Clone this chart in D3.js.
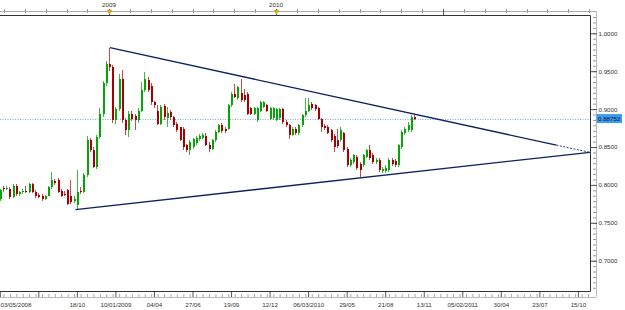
<!DOCTYPE html>
<html>
<head>
<meta charset="utf-8">
<script src="https://cdn.jsdelivr.net/npm/d3@7"></script>
<style>
body { margin: 0; background: #fff; }
svg { display: block; }
</style>
</head>
<body>
<script>
// weekly candles, one bar per week starting at firstBar
var firstBar = '2008-05-03';
var open  = [0.781,0.796,0.794,0.795,0.784,0.799,0.788,0.790,0.792,0.791,0.801,0.791,0.787,0.786,0.782,0.786,0.797,0.805,0.806,0.792,
             0.788,0.793,0.786,0.779,0.773,0.792,0.791,0.813,0.859,0.846,0.824,0.863,0.894,0.934,0.960,0.955,0.885,0.900,0.940,0.885,
             0.872,0.894,0.891,0.885,0.898,0.925,0.939,0.930,0.909,0.898,0.881,0.904,0.888,0.896,0.889,0.880,0.876,0.874,0.852,0.846,
             0.850,0.855,0.860,0.862,0.865,0.853,0.848,0.859,0.870,0.879,0.874,0.874,0.905,0.920,0.914,0.921,0.918,0.920,0.901,0.894,
             0.885,0.898,0.903,0.905,0.887,0.888,0.886,0.888,0.900,0.883,0.879,0.866,0.874,0.868,0.879,0.892,0.898,0.907,0.905,0.901,
             0.887,0.878,0.877,0.872,0.865,0.859,0.859,0.868,0.848,0.826,0.830,0.837,0.828,0.826,0.837,0.846,0.840,0.830,0.833,0.818,
             0.818,0.819,0.833,0.832,0.826,0.850,0.868,0.872,0.872,0.890];
var high  = [0.795,0.799,0.799,0.797,0.801,0.801,0.792,0.794,0.799,0.803,0.803,0.793,0.789,0.788,0.787,0.799,0.817,0.808,0.809,0.794,
             0.792,0.795,0.806,0.786,0.819,0.797,0.816,0.865,0.862,0.850,0.866,0.901,0.937,0.963,0.981,0.958,0.903,0.946,0.951,0.888,
             0.897,0.897,0.894,0.901,0.936,0.949,0.943,0.934,0.911,0.905,0.906,0.907,0.903,0.899,0.891,0.883,0.877,0.876,0.854,0.859,
             0.862,0.864,0.867,0.869,0.868,0.856,0.861,0.872,0.881,0.882,0.877,0.907,0.922,0.933,0.931,0.940,0.927,0.922,0.903,0.903,
             0.903,0.911,0.911,0.907,0.903,0.903,0.902,0.902,0.902,0.885,0.881,0.876,0.876,0.881,0.894,0.914,0.914,0.909,0.907,0.903,
             0.888,0.880,0.879,0.874,0.867,0.874,0.876,0.870,0.850,0.835,0.841,0.839,0.830,0.841,0.848,0.852,0.842,0.835,0.835,0.823,
             0.826,0.835,0.835,0.834,0.854,0.872,0.876,0.883,0.892,0.892];
var low   = [0.779,0.791,0.793,0.782,0.783,0.786,0.786,0.788,0.789,0.789,0.789,0.783,0.783,0.779,0.780,0.785,0.795,0.800,0.789,0.784,
             0.785,0.773,0.775,0.776,0.767,0.788,0.789,0.811,0.843,0.822,0.821,0.860,0.889,0.930,0.950,0.882,0.880,0.897,0.882,0.866,
             0.863,0.884,0.872,0.882,0.896,0.922,0.922,0.906,0.902,0.879,0.879,0.886,0.877,0.886,0.876,0.870,0.858,0.846,0.843,0.839,
             0.848,0.853,0.858,0.860,0.851,0.844,0.846,0.857,0.868,0.869,0.869,0.872,0.903,0.914,0.912,0.910,0.910,0.892,0.892,0.892,
             0.883,0.896,0.901,0.896,0.885,0.886,0.884,0.886,0.881,0.877,0.860,0.864,0.866,0.866,0.877,0.890,0.896,0.899,0.898,0.885,
             0.870,0.873,0.867,0.857,0.843,0.849,0.857,0.844,0.824,0.824,0.828,0.820,0.811,0.824,0.835,0.833,0.828,0.828,0.817,0.816,
             0.816,0.817,0.825,0.824,0.824,0.848,0.866,0.870,0.870,0.885];
var close = [0.793,0.794,0.796,0.784,0.799,0.788,0.790,0.792,0.791,0.801,0.791,0.785,0.784,0.781,0.785,0.797,0.806,0.803,0.791,0.786,
             0.787,0.775,0.777,0.782,0.791,0.790,0.813,0.859,0.846,0.824,0.863,0.894,0.934,0.960,0.956,0.885,0.900,0.940,0.885,0.872,
             0.894,0.887,0.885,0.898,0.925,0.940,0.925,0.909,0.905,0.881,0.903,0.889,0.895,0.889,0.879,0.873,0.859,0.850,0.846,0.857,
             0.860,0.862,0.864,0.866,0.853,0.847,0.859,0.870,0.879,0.871,0.871,0.905,0.920,0.916,0.929,0.912,0.912,0.894,0.894,0.901,
             0.901,0.909,0.909,0.898,0.901,0.901,0.900,0.900,0.883,0.879,0.866,0.874,0.868,0.879,0.892,0.898,0.905,0.901,0.900,0.887,
             0.876,0.875,0.869,0.859,0.850,0.851,0.872,0.846,0.826,0.833,0.839,0.822,0.819,0.839,0.846,0.835,0.830,0.833,0.819,0.821,
             0.822,0.833,0.827,0.826,0.852,0.870,0.874,0.879,0.890,0.8875];

var tickDates  = ['2008-05-03','2008-07-26','2008-10-18','2009-01-10','2009-04-04','2009-06-27','2009-09-19','2009-12-12',
                  '2010-03-06','2010-05-29','2010-08-21','2010-11-13','2011-02-05','2011-04-30','2011-07-23','2011-10-15'];
var tickLabels = ['03/05/2008','','18/10','10/01/2009','04/04','27/06','19/09','12/12',
                  '06/03/2010','29/05','21/08','13/11','05/02/2011','30/04','23/07','15/10'];
var years      = [2009, 2010, 2011];
var yearLabels = ['2009', '2010', ''];
var priceTicks = [0.70, 0.75, 0.80, 0.85, 0.90, 0.95, 1.00];
var lastPrice  = 0.88752;
// trend lines (date, price)
var upperSolid = [['2008-12-29', 0.9811], ['2011-08-29', 0.8525]];
var upperDash  = [['2011-08-29', 0.8525], ['2011-11-10', 0.843]];
var lowerSolid = [['2008-10-15', 0.7674], ['2011-11-10', 0.843]];

var width = 625, height = 310;
var plot = { left: 0, top: 15, right: 590, bottom: 291 };
var ruler = { top: 11, right: 596, bottom: 297 };
var font = '"Liberation Sans", Arial, sans-serif';

var parse = d3.timeParse('%Y-%m-%d');

var svg = d3.select('body').append('svg')
    .attr('width', width).attr('height', height)
    .style('font-family', font).style('font-size', '6.2px');

var x = d3.scaleTime()
    .domain([parse(tickDates[0]), parse(tickDates[tickDates.length - 1])])
    .range([-0.2, 577.9]);
var y = d3.scaleLinear().domain([0.70, 1.00]).range([260.7, 33.3]);
// the year ruler on top is placed a little differently from the date axis
var yearX = d3.scaleTime().domain([new Date(2009, 0, 1), new Date(2010, 0, 1)]).range([109, 276]);

var bars = open.map(function (o, i) {
  return { date: d3.timeWeek.offset(parse(firstBar), i), o: o, h: high[i], l: low[i], c: close[i] };
});

svg.append('defs').append('clipPath').attr('id', 'clip')
  .append('rect')
  .attr('x', plot.left).attr('y', plot.top)
  .attr('width', plot.right - plot.left).attr('height', plot.bottom - plot.top);

// ---- rulers ----
// top ruler
var topRuler = svg.append('g');
topRuler.append('line').attr('x1', 0).attr('x2', ruler.right).attr('y1', ruler.top + 0.5).attr('y2', ruler.top + 0.5)
   .attr('stroke', '#aaa');
var topMinor = [];
[2008, 2009, 2010, 2011].forEach(function (yr) {
  d3.range(8).forEach(function (k) {
    var d = d3.timeDay.offset(new Date(yr, 0, 1), Math.round(k * 365 / 8));
    var px = yearX(d);
    if (px >= 0 && px <= ruler.right) topMinor.push(d);
  });
});
topRuler.selectAll('.tm').data(topMinor).enter().append('line')
   .attr('x1', function (d) { return Math.round(yearX(d)) + 0.5; })
   .attr('x2', function (d) { return Math.round(yearX(d)) + 0.5; })
   .attr('y1', ruler.top - 2).attr('y2', ruler.top + 2)
   .attr('stroke', '#999');
var yearDates = years.map(function (yr) { return new Date(yr, 0, 1); });
topRuler.selectAll('.tM').data(yearDates).enter().append('line')
   .attr('x1', function (d) { return Math.round(yearX(d)) + 0.5; })
   .attr('x2', function (d) { return Math.round(yearX(d)) + 0.5; })
   .attr('y1', ruler.top - 2).attr('y2', plot.top)
   .attr('stroke', '#555');
topRuler.selectAll('.tri').data(yearDates.slice(0, 2)).enter().append('path')
   .attr('d', d3.symbol(d3.symbolTriangle, 14))
   .attr('transform', function (d) { return 'translate(' + (Math.round(yearX(d)) + 0.5) + ',' + (ruler.top + 0.5) + ') rotate(180)'; })
   .attr('fill', '#d9a21b');
topRuler.selectAll('.tl').data(yearDates).enter().append('text')
   .attr('x', function (d) { return yearX(d); })
   .attr('y', 6.7)
   .attr('text-anchor', 'middle')
   .attr('fill', '#333')
   .text(function (d, i) { return yearLabels[i]; });

// bottom ruler
var bottomRuler = svg.append('g').attr('transform', 'translate(0,' + ruler.bottom + ')');
var minorDates = d3.timeWeek.every(2).range(parse(tickDates[0]), parse('2011-11-20'))
    .filter(function (d) { return x(d) >= 0 && x(d) <= ruler.right; });
bottomRuler.append('g')
  .call(d3.axisTop(x).tickValues(minorDates).tickSize(3).tickFormat(''))
  .call(function (g) { g.selectAll('line').attr('stroke', '#aaa'); g.select('.domain').remove(); });
bottomRuler.append('g')
  .call(d3.axisTop(x).tickValues(tickDates.map(parse)).tickSize(6).tickFormat(''))
  .call(function (g) { g.selectAll('line').attr('stroke', '#555'); g.select('.domain').remove(); });
bottomRuler.append('line').attr('x1', 0).attr('x2', ruler.right).attr('y1', 0.5).attr('y2', 0.5).attr('stroke', '#bbb');
bottomRuler.append('g')
  .call(d3.axisBottom(x).tickValues(tickDates.map(parse)).tickSize(0).tickPadding(5.3)
        .tickFormat(function (d, i) { return tickLabels[i]; }))
  .call(function (g) {
    g.select('.domain').remove();
    g.selectAll('text').attr('fill', '#333').style('font-family', font).style('font-size', '6.2px');
    g.selectAll('text').filter(function (d, i) { return i === 0; }).attr('text-anchor', 'start').attr('x', 0.2);
  });

// right ruler
var rightRuler = svg.append('g').attr('transform', 'translate(' + ruler.right + ',0)');
rightRuler.append('line').attr('x1', 0.5).attr('x2', 0.5).attr('y1', ruler.top).attr('y2', ruler.bottom).attr('stroke', '#bbb');
var priceMinor = d3.range(0, 60).map(function (k) { return 0.65 + k * 0.05 / 7; })
    .filter(function (v) { return y(v) > plot.top + 2 && y(v) < plot.bottom; });
rightRuler.append('g')
  .call(d3.axisLeft(y).tickValues(priceMinor).tickSize(3).tickFormat(''))
  .call(function (g) { g.selectAll('line').attr('stroke', '#999'); g.select('.domain').remove(); });
rightRuler.append('g')
  .call(d3.axisLeft(y).tickValues(priceTicks).tickSize(6).tickFormat(''))
  .call(function (g) { g.selectAll('line').attr('stroke', '#555').attr('x2', 1).attr('x1', -6); g.select('.domain').remove(); });
rightRuler.append('g')
  .call(d3.axisRight(y).tickValues(priceTicks).tickSize(0).tickPadding(2.5).tickFormat(d3.format('.4f')))
  .call(function (g) {
    g.select('.domain').remove();
    g.selectAll('text').attr('fill', '#333').style('font-family', font).style('font-size', '6.2px');
  });

// ---- plot ----
var chart = svg.append('g').attr('clip-path', 'url(#clip)');

// last price line
chart.append('line')
  .attr('x1', plot.left).attr('x2', plot.right)
  .attr('y1', Math.round(y(lastPrice)) + 0.5).attr('y2', Math.round(y(lastPrice)) + 0.5)
  .attr('stroke', '#6db4ec').attr('stroke-dasharray', '1,1.5');

// candles
var candle = chart.selectAll('.bar').data(bars).enter().append('g')
  .attr('shape-rendering', 'crispEdges');
candle.append('line')
  .attr('x1', function (d) { return Math.round(x(d.date)) + 0.5; })
  .attr('x2', function (d) { return Math.round(x(d.date)) + 0.5; })
  .attr('y1', function (d) { return y(d.h); })
  .attr('y2', function (d) { return y(d.l); })
  .attr('stroke', function (d) { return d.c >= d.o ? '#3cbc3c' : '#c94a4a'; });
candle.append('rect')
  .attr('x', function (d) { return Math.round(x(d.date)) - 0.5; })
  .attr('width', 2)
  .attr('y', function (d) { return y(Math.max(d.o, d.c)); })
  .attr('height', function (d) { return Math.max(1, Math.abs(y(d.o) - y(d.c))); })
  .attr('fill', function (d) { return d.c >= d.o ? '#06a506' : '#a80000'; });

// trend lines
var trend = d3.line()
  .x(function (d) { return x(parse(d[0])); })
  .y(function (d) { return y(d[1]); });
chart.append('path').attr('d', trend(upperSolid)).attr('fill', 'none').attr('stroke', '#0b225e').attr('stroke-width', 1.3);
chart.append('path').attr('d', trend(upperDash)).attr('fill', 'none').attr('stroke', '#2a4580').attr('stroke-width', 1)
  .attr('stroke-dasharray', '2,1.5');
chart.append('path').attr('d', trend(lowerSolid)).attr('fill', 'none').attr('stroke', '#0b225e').attr('stroke-width', 1.3);

// plot frame (top, right, bottom)
svg.append('path')
  .attr('d', d3.line()([[plot.left, plot.top + 0.5], [plot.right + 0.5, plot.top + 0.5],
                        [plot.right + 0.5, plot.bottom + 0.5], [plot.left, plot.bottom + 0.5]]))
  .attr('fill', 'none').attr('stroke', '#333');

// last price tag
var tag = svg.append('g').attr('transform', 'translate(' + ruler.right + ',' + y(lastPrice) + ')');
tag.append('rect').attr('x', 0.5).attr('y', -4.5).attr('width', 25.5).attr('height', 9).attr('fill', '#3a9cf5');
tag.append('text').attr('x', 2).attr('y', 2.2).attr('fill', '#111').text(d3.format('.5f')(lastPrice));
</script>
</body>
</html>
